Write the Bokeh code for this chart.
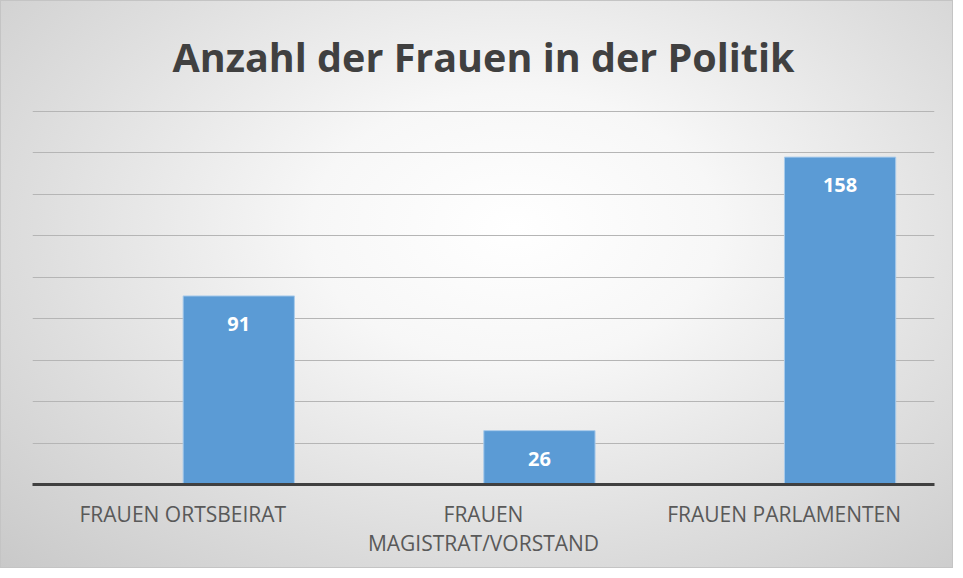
from bokeh.plotting import figure
from bokeh.models import ColumnDataSource, LabelSet, Range1d, SingleIntervalTicker, FactorRange
from bokeh.transform import dodge
from bokeh.core.properties import value
from bokeh.embed import file_html
from bokeh.resources import INLINE

# ---- data ----
categories = ["FRAUEN ORTSBEIRAT", "FRAUEN\nMAGISTRAT/VORSTAND", "FRAUEN PARLAMENTEN"]
values = [91, 26, 158]
title_text = "Anzahl der Frauen in der Politik"

source = ColumnDataSource(dict(cat=categories, top=values, label=[str(v) for v in values]))

p = figure(width=953, height=568, output_backend="svg", toolbar_location=None,
           x_range=FactorRange(factors=categories, range_padding=0),
           y_range=Range1d(0, 180.5),
           min_border_left=31, min_border_right=20, min_border_top=0, min_border_bottom=85)

p.styles = {
    "background": "radial-gradient(ellipse farthest-corner at 54% 40%, #ffffff 0%, #f7f7f7 28%, #dedede 66%, #c9c9c9 100%)",
    "border": "1px solid #c4c4c4",
    "box-sizing": "border-box",
}
p.border_fill_alpha = 0
p.background_fill_alpha = 0
p.outline_line_color = None

xpos = dodge("cat", 0.186, range=p.x_range)
p.vbar(x=xpos, top="top", width=0.37, source=source,
       fill_color="#5B9BD5", line_color="#A9CBEB", line_width=1)

labels = LabelSet(x=xpos, y="top", text="label", source=source, y_offset=-28,
                  text_align="center", text_baseline="middle",
                  text_color="white", text_font=value("Open Sans"), text_font_style="bold",
                  text_font_size="20px")
p.add_layout(labels)

p.title.text = title_text
p.title.align = "center"
p.title.text_font = "Open Sans"
p.title.text_font_style = "bold"
p.title.text_font_size = "39.5px"
p.title.text_color = "#404040"
p.title.standoff = 53

p.yaxis.visible = False
p.xgrid.visible = False
p.ygrid.ticker = SingleIntervalTicker(interval=20)
p.ygrid.grid_line_color = "#b5b5b5"
p.ygrid.grid_line_width = 1

xa = p.xaxis[0]
xa.major_label_text_font = "Open Sans"
xa.major_label_text_font_size = "21px"
xa.major_label_text_color = "#595959"
xa.major_label_text_line_height = 1.05
xa.major_tick_line_color = None
xa.minor_tick_line_color = None
xa.major_tick_out = 0
xa.major_label_standoff = 15
xa.axis_line_color = "#404040"
xa.axis_line_width = 3

open("out.html", "w").write(file_html(p, INLINE))
